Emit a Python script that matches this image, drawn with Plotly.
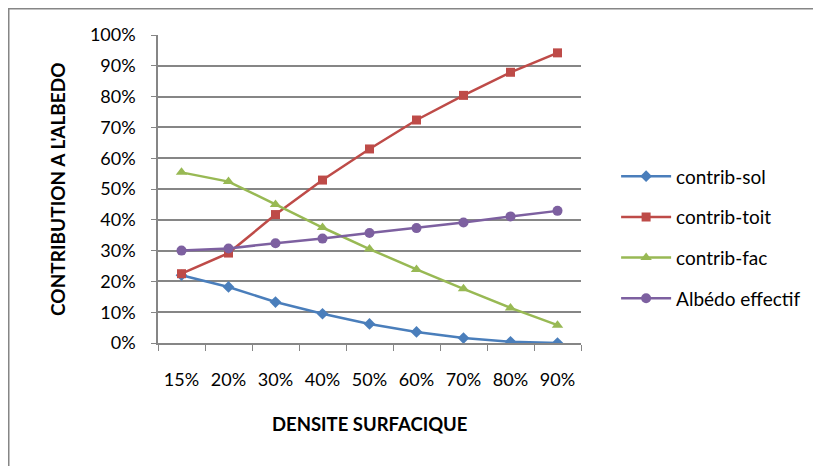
import plotly.graph_objects as go

# Categories and series
densite = ['15%', '20%', '30%', '40%', '50%', '60%', '70%', '80%', '90%']
contrib_sol = [0.220, 0.182, 0.133, 0.095, 0.062, 0.036, 0.016, 0.004, 0.000]
contrib_toit = [0.225, 0.292, 0.417, 0.529, 0.630, 0.724, 0.804, 0.879, 0.942]
contrib_fac = [0.554, 0.524, 0.450, 0.375, 0.305, 0.239, 0.176, 0.114, 0.058]
albedo_effectif = [0.300, 0.307, 0.324, 0.339, 0.357, 0.373, 0.391, 0.411, 0.429]

FONT = 'Lato, Noto Sans, sans-serif'
GRID = '#868686'

series = [
    ('contrib-sol', contrib_sol, '#4A7EBB', 'diamond', 9),
    ('contrib-toit', contrib_toit, '#BE4B48', 'square', 9),
    ('contrib-fac', contrib_fac, '#98B954', 'triangle-up', 10),
    ('Albédo effectif', albedo_effectif, '#7D60A0', 'circle', 10),
]

fig = go.Figure()
for name, values, color, symbol, size in series:
    fig.add_trace(go.Scatter(
        x=densite, y=values, name=name, mode='lines+markers',
        legendgroup=name,
        line=dict(color=color, width=2.5),
        marker=dict(symbol=symbol, size=size, color=color),
    ))

# page body has an 8px margin, so the figure is sized to the visible window
fig.update_layout(
    width=813, height=458,
    margin=dict(l=150, r=240, t=27, b=123),
    paper_bgcolor='white', plot_bgcolor='white',
    font=dict(family=FONT, size=18, color='black'),
    showlegend=True,
    legend=dict(x=1.083, y=0.343, xanchor='left', yanchor='middle',
                tracegroupgap=13, font=dict(size=19), itemwidth=50),
    xaxis=dict(
        type='category', range=[-0.5, 8.5],
        showline=True, linecolor=GRID, linewidth=1.5,
        ticks='outside', tickson='boundaries', ticklen=6, tickcolor=GRID,
        ticklabelstandoff=20, showgrid=False,
    ),
    yaxis=dict(
        range=[0, 1], dtick=0.1, tickformat='.0%',
        showline=True, linecolor=GRID, linewidth=1.5,
        ticks='outside', ticklen=5, tickcolor=GRID, ticklabelstandoff=12,
        showgrid=True, gridcolor=GRID, gridwidth=1.5, zeroline=False,
    ),
    annotations=[
        dict(text='<b>DENSITE SURFACIQUE</b>', xref='paper', yref='paper',
             x=0.499, y=-0.263, xanchor='center', yanchor='middle',
             showarrow=False, font=dict(size=18.5)),
        dict(text="<b>CONTRIBUTION A L'ALBEDO</b>", xref='paper', yref='paper',
             x=-0.239, y=0.5, xanchor='center', yanchor='middle', textangle=-90,
             showarrow=False, font=dict(size=19)),
    ],
    # chart-area frame: left and top edges, right and bottom run off the page
    shapes=[
        dict(type='rect', xref='paper', yref='paper',
             x0=-0.3528, x1=1.9, y0=-0.6, y1=1.0852,
             line=dict(color=GRID, width=1.5), layer='below'),
    ],
)

fig.write_html('out.html')
